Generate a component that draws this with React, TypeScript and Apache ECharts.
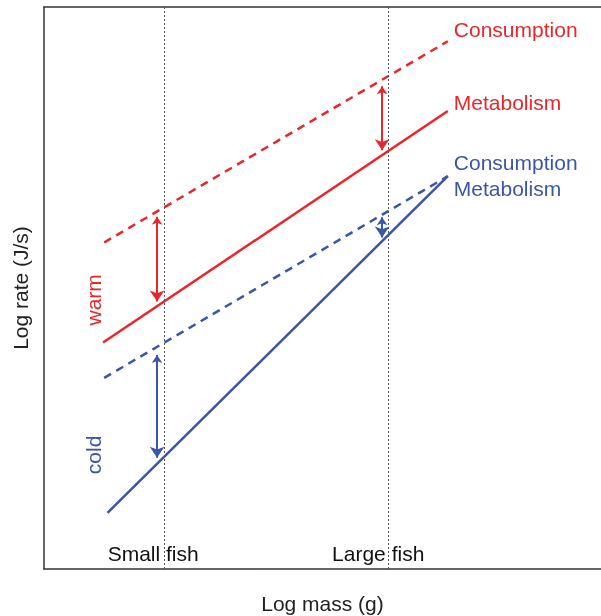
import React, { useEffect, useRef } from "react";
import * as echarts from "echarts";

const RED = "#e9262a";
const BLUE = "#3a56a6";

// x: log mass (arbitrary units 0..100), y: log rate (arbitrary units 0..100)
const warmConsumption: [number, number][] = [[10.8, 58.1], [72.5, 93.9]];
const warmMetabolism: [number, number][] = [[10.6, 40.3], [72.5, 81.5]];
const coldConsumption: [number, number][] = [[10.8, 34.0], [72.5, 69.9]];
const coldMetabolism: [number, number][] = [[11.4, 10.0], [72.5, 69.9]];

const fishMarks = [21.5, 61.8];
const fishLabels = ["Small fish", "Large fish"];
const fishLabelPos: [number, number][] = [[19.6, 2.7], [60.0, 2.7]];

const redArrows: [number, number][][] = [[[20.3, 62.7], [20.3, 47.6]], [[60.7, 85.9], [60.7, 74.5]]];
const blueArrows: [number, number][][] = [[[20.3, 38.1], [20.3, 19.8]], [[60.7, 62.6], [60.7, 59.0]]];

const groupLabels = ["warm", "cold"];
const groupLabelPos: [number, number][] = [[8.9, 47.9], [8.9, 20.3]];

export default function App() {
  const ref = useRef<HTMLDivElement>(null);
  useEffect(() => {
    const chart = echarts.init(ref.current!, null, { renderer: "svg" });
    const font = "Liberation Sans, Arial, sans-serif";
    const FS = 21;
    const axisLine = { show: true, lineStyle: { color: "#333", width: 1.5 } };
    const lineSeries = (name: string, data: [number, number][], color: string, dashed: boolean, label: string, offset: [number, number]) => ({
      type: "line",
      name,
      data,
      showSymbol: false,
      symbol: "none",
      lineStyle: { color, width: 2.5, type: dashed ? [8, 6] : "solid" },
      endLabel: {
        show: true,
        formatter: label,
        color,
        fontSize: FS,
        fontFamily: font,
        distance: 5,
        offset,
      },
      z: 3,
    });
    chart.setOption({
      animation: false,
      grid: {
        left: 44,
        top: 7,
        right: 0,
        bottom: 47,
        show: false,
        outerBoundsMode: "none",
        containLabel: false,
      },
      xAxis: [
        {
          type: "value",
          min: 0,
          max: 100,
          position: "bottom",
          name: "Log mass (g)",
          nameLocation: "middle",
          nameGap: 24,
          nameTextStyle: { fontSize: FS, color: "#222", fontFamily: font },
          axisLine,
          axisTick: { show: false },
          axisLabel: { show: false },
          splitLine: { show: false },
        },
        {
          type: "value",
          min: 0,
          max: 100,
          position: "top",
          axisLine,
          axisTick: { show: false },
          axisLabel: { show: false },
          splitLine: { show: false },
        },
      ],
      yAxis: {
        type: "value",
        min: 0,
        max: 100,
        name: "Log rate (J/s)",
        nameLocation: "middle",
        nameGap: 13,
        nameTextStyle: { fontSize: FS, color: "#222", fontFamily: font },
        axisLine,
        axisTick: { show: false },
        axisLabel: { show: false },
        splitLine: { show: false },
      },
      series: [
        {
          type: "line",
          data: [],
          markLine: {
            silent: true,
            symbol: "none",
            label: { show: false },
            lineStyle: { color: "#555", width: 1, type: [2, 2] },
            data: fishMarks.map((x) => ({ xAxis: x })),
          },
        },
        lineSeries("warmConsumption", warmConsumption, RED, true, "Consumption", [1, -12]),
        lineSeries("warmMetabolism", warmMetabolism, RED, false, "Metabolism", [1, -8]),
        lineSeries("coldConsumption", coldConsumption, BLUE, true, "Consumption", [1, -14]),
        lineSeries("coldMetabolism", coldMetabolism, BLUE, false, "Metabolism", [1, 12]),
        {
          type: "lines",
          coordinateSystem: "cartesian2d",
          symbol: ["arrow", "arrow"],
          symbolSize: [8, 11],
          lineStyle: { color: RED, width: 2, opacity: 1 },
          data: redArrows.map((c) => ({ coords: c })),
          z: 4,
        },
        {
          type: "lines",
          coordinateSystem: "cartesian2d",
          symbol: ["arrow", "arrow"],
          symbolSize: [8, 11],
          lineStyle: { color: BLUE, width: 2, opacity: 1 },
          data: blueArrows.map((c) => ({ coords: c })),
          z: 4,
        },
        {
          type: "scatter",
          symbolSize: 0,
          itemStyle: { opacity: 1 },
          data: fishLabelPos.map((p, i) => ({ value: p, name: fishLabels[i] })),
          label: {
            show: true,
            position: "inside",
            formatter: "{b}",
            fontSize: FS,
            color: "#111",
            opacity: 1,
            fontFamily: font,
          },
          z: 5,
        },
        {
          type: "scatter",
          symbolSize: 0,
          itemStyle: { opacity: 1 },
          data: groupLabelPos.map((p, i) => ({
            value: p,
            name: groupLabels[i],
            label: { color: i === 0 ? RED : BLUE },
          })),
          label: {
            show: true,
            position: "inside",
            formatter: "{b}",
            rotate: 90,
            fontSize: FS,
            opacity: 1,
            fontFamily: font,
          },
          z: 5,
        },
      ],
    });
    return () => chart.dispose();
  }, []);
  return <div ref={ref} style={{ position: "fixed", left: 0, top: 0, width: 601, height: 616 }} />;
}
